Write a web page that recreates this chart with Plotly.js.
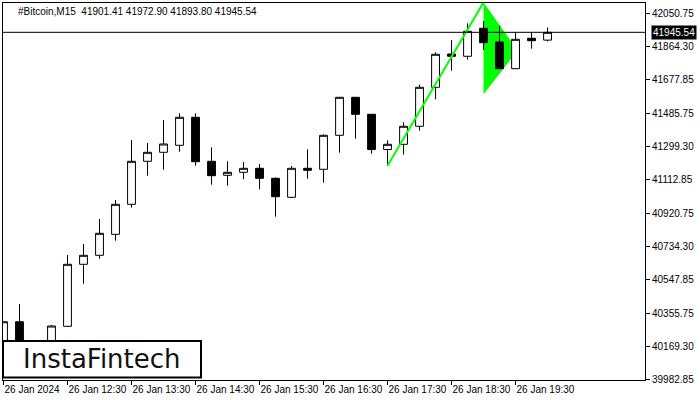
<!DOCTYPE html>
<html>
<head>
<meta charset="utf-8">
<script src="https://cdn.plot.ly/plotly-3.0.1.min.js"></script>
<style>
html,body{margin:0;padding:0;background:#fff;}
#chart{width:700px;height:400px;}
</style>
</head>
<body>
<div id="chart"></div>
<script>
// ---- data ----
const times = [
 "2024-01-26 11:30","2024-01-26 11:45","2024-01-26 12:00","2024-01-26 12:15",
 "2024-01-26 12:30","2024-01-26 12:45","2024-01-26 13:00","2024-01-26 13:15",
 "2024-01-26 13:30","2024-01-26 13:45","2024-01-26 14:00","2024-01-26 14:15",
 "2024-01-26 14:30","2024-01-26 14:45","2024-01-26 15:00","2024-01-26 15:15",
 "2024-01-26 15:30","2024-01-26 15:45","2024-01-26 16:00","2024-01-26 16:15",
 "2024-01-26 16:30","2024-01-26 16:45","2024-01-26 17:00","2024-01-26 17:15",
 "2024-01-26 17:30","2024-01-26 17:45","2024-01-26 18:00","2024-01-26 18:15",
 "2024-01-26 18:30","2024-01-26 18:45","2024-01-26 19:00","2024-01-26 19:15",
 "2024-01-26 19:30","2024-01-26 19:45","2024-01-26 20:00"
];
const opens  = [40139.4,40310.5,40100.0,40082.9,40284.6,40634.9,40685.7,40804.4,40973.9,41216.8,41267.7,41307.2,41465.5,41216.8,41137.7,41154.7,41177.3,41120.8,41013.4,41177.3,41171.6,41363.7,41578.4,41482.4,41283.5,41312.9,41414.6,41635.0,41823.1,41810.1,41968.3,41890.9,41740.0,41911.8,41901.41];
const highs  = [40310.5,40410.5,40140.0,40291.9,40687.4,40749.6,40890.8,40998.2,41337.2,41320.2,41450.2,41488.0,41488.0,41295.9,41217.4,41212.9,41201.6,41126.4,41190.3,41284.6,41369.4,41580.1,41580.1,41484.1,41335.5,41437.8,41649.6,41832.7,41902.2,41996.5,42009.5,41981.3,41945.7,41945.7,41972.90];
const lows   = [40116.7,40049.0,40040.0,40060.3,40280.6,40525.3,40666.5,40768.2,40954.7,41135.5,41169.4,41271.1,41192.0,41084.6,41079.0,41115.1,41058.6,40903.8,41009.5,41118.5,41095.9,41265.4,41344.5,41259.8,41191.4,41255.3,41389.7,41567.1,41728.7,41790.9,41845.7,41740.0,41738.0,41853.0,41893.80];
const closes = [40310.5,40094.1,40120.0,40286.3,40634.9,40685.7,40810.0,40973.9,41216.8,41267.7,41314.6,41465.5,41214.5,41135.5,41154.7,41177.3,41120.8,41016.8,41177.3,41166.0,41363.7,41578.4,41482.4,41283.5,41312.9,41414.6,41635.0,41821.4,41810.1,41951.3,41886.9,41740.0,41906.1,41898.2,41945.54];

const xTickIdx    = [0,4,8,12,16,20,24,28,32];
const xTickLabels = ["26 Jan 2024","26 Jan 12:30","26 Jan 13:30","26 Jan 14:30","26 Jan 15:30","26 Jan 16:30","26 Jan 17:30","26 Jan 18:30","26 Jan 19:30"];
const yTickVals   = [42050.75,41864.30,41677.85,41485.75,41299.30,41112.85,40920.75,40734.30,40547.85,40355.75,40169.30,39982.85];

const lastPrice = 41945.54;
const headerText = "#Bitcoin,M15\u00a0\u00a041901.41 41972.90 41893.80 41945.54";
const logoText = "InstaFintech";

// pennant pattern (bar index, price)
const poleIdx    = [24, 30];
const polePrice  = [41191.4, 42115.2];
const flagIdx    = [30, 32.125, 30];
const flagPrice  = [42115.2, 41843.4, 41595.4];

// ---- build ----
const xIdx = times.map((_, i) => i);
const FONT = "Liberation Sans, Arial, sans-serif";

const flagPath = flagIdx.map((x, i) => (i === 0 ? "M" : "L") + x + "," + flagPrice[i]).join(" ") + " Z";

const traces = [
  {
    type: "candlestick",
    x: xIdx, open: opens, high: highs, low: lows, close: closes,
    increasing: {line: {color: "#000", width: 1}, fillcolor: "#fff"},
    decreasing: {line: {color: "#000", width: 1}, fillcolor: "#000"},
    whiskerwidth: 0,
    hoverinfo: "skip",
    showlegend: false
  },
  {
    type: "scatter", mode: "lines",
    x: poleIdx, y: polePrice,
    line: {color: "#00ff00", width: 2},
    hoverinfo: "skip", showlegend: false, cliponaxis: true
  }
];

const layout = {
  width: 700, height: 400,
  margin: {l: 3, r: 55, t: 3, b: 20, pad: 0},
  paper_bgcolor: "#fff", plot_bgcolor: "#fff",
  showlegend: false,
  boxgap: 0.3,
  font: {family: FONT, size: 10, color: "#000"},
  title: {
    text: headerText,
    x: 18/700, xanchor: "left", xref: "container",
    y: 1 - 11/400, yanchor: "middle", yref: "container",
    font: {family: FONT, size: 10, color: "#000"}
  },
  xaxis: {
    type: "linear",
    range: [-0.031, 40.09],
    tickmode: "array", tickvals: xTickIdx, ticktext: xTickLabels,
    tickangle: 0,
    ticks: "outside", ticklen: 4, tickwidth: 1, tickcolor: "#000",
    ticklabelposition: "outside right",
    showgrid: false, zeroline: false,
    showline: true, linecolor: "#000", linewidth: 1, mirror: true,
    tickfont: {family: FONT, size: 10, color: "#000"},
    rangeslider: {visible: false},
    fixedrange: true
  },
  yaxis: {
    side: "right",
    range: [39981.2, 42111.2],
    tickmode: "array", tickvals: yTickVals, ticktext: yTickVals.map(v => v.toFixed(2)),
    ticks: "outside", ticklen: 4, tickwidth: 1, tickcolor: "#000",
    showgrid: false, zeroline: false,
    showline: true, linecolor: "#000", linewidth: 1, mirror: true,
    tickfont: {family: FONT, size: 10, color: "#000"},
    fixedrange: true
  },
  shapes: [
    {type: "path", xref: "x", yref: "y", path: flagPath, fillcolor: "#00ff00", line: {width: 0}, layer: "below"},
    {type: "line", xref: "paper", yref: "y", x0: 0, x1: 1, y0: lastPrice, y1: lastPrice, line: {color: "#000", width: 1}, layer: "above"},
    {type: "rect", xref: "paper", yref: "paper", x0: 0, x1: 198/642, y0: 2.5/377, y1: 39/377, fillcolor: "#fff", line: {color: "#000", width: 2}, layer: "above"}
  ],
  annotations: [
    {
      xref: "paper", yref: "y", x: 1, y: lastPrice, xanchor: "left", yanchor: "middle",
      xshift: 6, text: lastPrice.toFixed(2), showarrow: false,
      bgcolor: "#000", borderpad: 1,
      font: {family: FONT, size: 10, color: "#fff"}
    },
    {
      xref: "paper", yref: "paper", x: 98.7/642, y: 21.5/377, xanchor: "center", yanchor: "middle",
      text: logoText, showarrow: false,
      font: {family: "DejaVu Sans, sans-serif", size: 26, color: "#111"}
    }
  ]
};

Plotly.newPlot("chart", traces, layout, {displayModeBar: false, staticPlot: true});
</script>
</body>
</html>
